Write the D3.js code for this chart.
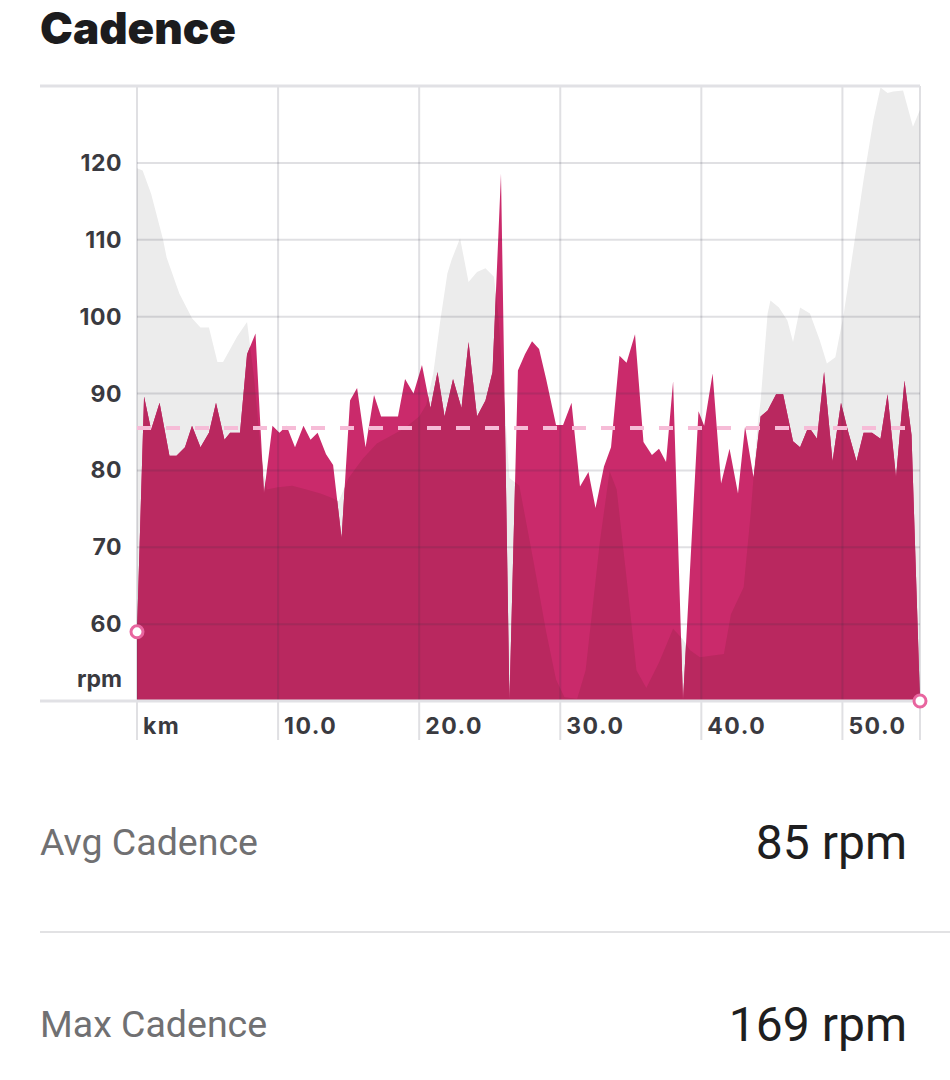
<!DOCTYPE html>
<html>
<head>
<meta charset="utf-8">
<script src="https://cdn.jsdelivr.net/npm/d3@7"></script>
<style>
  body { margin: 0; background: #fff; }
</style>
</head>
<body>
<div class="canvas"></div>
<script>
// cadence samples (km, rpm)
const distKm = [0, 0.5, 1.0, 1.6, 2.3, 2.8, 3.4, 3.9, 4.5, 5.1, 5.6, 6.2, 6.6, 7.3, 7.8, 8.4, 9.0, 9.6, 10.1, 10.6,
  11.2, 11.8, 12.3, 12.8, 13.4, 13.9, 14.5, 15.1, 15.6, 16.2, 16.8, 17.3, 18.5, 19.0, 19.6, 20.2, 20.8, 21.3, 21.8, 22.4,
  23.0, 23.5, 24.1, 24.7, 25.2, 25.8, 26.4, 27.0, 27.5, 28.0, 28.5, 29.0, 29.7, 30.2, 30.8, 31.4, 32.0, 32.5, 33.1, 33.6,
  34.2, 34.7, 35.3, 35.9, 36.5, 37.0, 37.5, 38.0, 38.7, 39.8, 40.2, 40.8, 41.4, 42.0, 42.6, 43.1, 43.7, 44.2, 44.7, 45.3,
  45.8, 46.5, 47.0, 47.6, 48.2, 48.7, 49.3, 49.9, 50.4, 51.0, 51.5, 52.1, 52.7, 53.2, 53.8, 54.4, 54.9, 55.5];
const cadence = [59, 89.6, 85.3, 88.8, 81.9, 81.9, 83, 85.8, 83, 84.9, 88.8, 84, 84.9, 84.9, 95.1, 97.8, 77, 85.8, 84.9, 85.8,
  83, 85.8, 84, 84.9, 82.1, 80.7, 71.2, 89.1, 90.7, 83, 89.8, 87, 87, 91.9, 90, 93.7, 88.1, 92.8, 87, 91.9,
  88.1, 96.7, 87, 89.1, 92.8, 118.6, 50, 93, 95.1, 96.8, 95.8, 91.9, 85.9, 85.9, 88.8, 77.9, 79.8, 75.1, 80.5, 83,
  94.9, 94, 97.7, 83.7, 82, 82.8, 81.1, 91.6, 50, 87.7, 85.8, 92.6, 78.3, 82.8, 77, 85.7, 79.1, 87, 87.8, 89.9,
  89.9, 83.8, 83, 85.7, 84.1, 92.8, 81.2, 88.8, 85.1, 81.2, 84.9, 84.9, 84.1, 89.9, 79.1, 91.7, 84.6, 50];

// elevation profile (drawn on the same vertical scale as a backdrop)
const elevKm = [0, 0.4, 1.0, 1.85, 2.1, 3.0, 3.9, 4.5, 5.1, 5.7, 6.1, 7.1, 7.8, 8.3, 8.8, 9.2, 10, 11, 12, 13,
  13.7, 14.3, 15, 16, 17, 18, 19, 20, 20.5, 21.0, 21.5, 22.0, 22.3, 22.9, 23.5, 24.1, 24.7, 25.3, 25.6, 26.0,
  26.4, 27.1, 28.1, 29.0, 29.7, 30.3, 31.2, 31.8, 32.8, 33.5, 34.0, 34.7, 35.4, 36.1, 37.0, 38.0, 38.7, 39.2, 39.9, 41.6,
  42.1, 43.0, 43.5, 44.0, 44.2, 44.7, 44.9, 45.5, 46.1, 46.5, 47.0, 47.7, 48.4, 48.9, 49.5, 50.1, 50.8, 51.5, 52.2, 52.7,
  53.2, 53.6, 54.3, 55.0, 55.5];
const elevation = [119.3, 119, 116, 110, 107.7, 103, 99.8, 98.6, 98.6, 94.1, 94.1, 97.4, 99.3, 92, 82, 77.5, 77.8, 78, 77.5, 77,
  76.5, 76, 79, 81.5, 83.5, 84.5, 85.5, 87, 88.5, 92.6, 99.5, 105.6, 107.4, 110.2, 104.5, 105.8, 106.3, 105.2, 100.4, 90,
  79, 78, 68.2, 59, 52.8, 50.5, 50.3, 54, 70.6, 79.9, 77.5, 66, 54, 51.7, 55, 59.4, 58, 56.6, 55.7, 56.1,
  61.3, 64.8, 74.4, 86.1, 89, 100.4, 102.1, 101.2, 99.5, 96.7, 101.2, 100.4, 96.9, 93.9, 94.7, 100.4, 109.1, 117.8, 125.6, 129.8,
  129.1, 129.3, 129.4, 124.7, 126.9];

const xTicks = [0, 10, 20, 30, 40, 50];
const yTicks = [60, 70, 80, 90, 100, 110, 120];
const avgLine = 85.5;
const statLabels = ["Avg Cadence", "Max Cadence"];
const statValues = ["85 rpm", "169 rpm"];

const dims = { width: 950, height: 1080 };
const plot = { left: 137, right: 920, top: 86, bottom: 701 };

const svg = d3
  .select(".canvas")
  .append("svg")
  .attr("width", dims.width)
  .attr("height", dims.height);

const x = d3.scaleLinear().domain([0, 55.5]).range([plot.left, plot.right]);
const y = d3.scaleLinear().domain([50, 130]).range([plot.bottom, plot.top]);

const cadData = distKm.map((km, i) => ({ km, v: cadence[i] }));
const elevData = elevKm.map((km, i) => ({ km, v: elevation[i] }));

const area = d3
  .area()
  .x((d) => x(d.km))
  .y0(y(50))
  .y1((d) => y(d.v));

// title
svg
  .append("text")
  .attr("x", 40)
  .attr("y", 44)
  .attr("font-family", "Inter, Lato, sans-serif")
  .attr("font-weight", 900)
  .attr("font-size", 44)
  .attr("fill", "#1c1c1e")
  .text("Cadence");

let defs = svg.append("defs");
defs.append("clipPath").attr("id", "cadClip").append("path").attr("d", area(cadData));

// grey elevation backdrop
svg.append("path").attr("d", area(elevData)).attr("fill", "#ececec");

// cadence
svg.append("path").attr("d", area(cadData)).attr("fill", "#ca2a6b");

// darker where elevation sits under cadence
svg
  .append("path")
  .attr("d", area(elevData))
  .attr("fill", "#b9285f")
  .attr("clip-path", "url(#cadClip)");

// grid
const grid = svg.append("g").attr("stroke", "rgba(50,50,70,0.15)").attr("stroke-width", 2);

grid
  .selectAll("line.h")
  .data(yTicks)
  .enter()
  .append("line")
  .attr("x1", plot.left)
  .attr("x2", plot.right)
  .attr("y1", (d) => y(d))
  .attr("y2", (d) => y(d));

grid
  .selectAll("line.v")
  .data(xTicks.concat([55.5]))
  .enter()
  .append("line")
  .attr("x1", (d) => x(d))
  .attr("x2", (d) => x(d))
  .attr("y1", plot.top)
  .attr("y2", 740);

// frame top / bottom
[plot.top, plot.bottom].forEach((yy) => {
  svg
    .append("line")
    .attr("x1", 40)
    .attr("x2", plot.right)
    .attr("y1", yy)
    .attr("y2", yy)
    .attr("stroke", "#e1e1e5")
    .attr("stroke-width", 3);
});

// average line
svg
  .append("line")
  .attr("x1", plot.left)
  .attr("x2", plot.right)
  .attr("y1", y(avgLine))
  .attr("y2", y(avgLine))
  .attr("stroke", "#f6bcd7")
  .attr("stroke-width", 4)
  .attr("stroke-dasharray", "14,15");

// start / end markers
const ends = [cadData[0], cadData[cadData.length - 1]];
svg
  .selectAll("circle.end")
  .data(ends)
  .enter()
  .append("circle")
  .attr("cx", (d) => x(d.km))
  .attr("cy", (d) => y(d.v))
  .attr("r", 6)
  .attr("fill", "#fff")
  .attr("stroke", "#e8659f")
  .attr("stroke-width", 3);

// axis labels
const labelFont = "Inter, Lato, sans-serif";
svg
  .selectAll("text.ytick")
  .data(yTicks)
  .enter()
  .append("text")
  .attr("x", 122)
  .attr("y", (d) => y(d) + 8)
  .attr("text-anchor", "end")
  .attr("font-family", labelFont)
  .attr("font-weight", 700)
  .attr("font-size", 23)
  .attr("letter-spacing", 0.5)
  .attr("fill", "#3a3a40")
  .text((d) => d);

svg
  .append("text")
  .attr("x", 122)
  .attr("y", 687)
  .attr("text-anchor", "end")
  .attr("font-family", labelFont)
  .attr("font-weight", 700)
  .attr("font-size", 23)
  .attr("fill", "#3a3a40")
  .text("rpm");

svg
  .selectAll("text.xtick")
  .data(xTicks)
  .enter()
  .append("text")
  .attr("x", (d) => x(d) + 6)
  .attr("y", 734)
  .attr("font-family", labelFont)
  .attr("font-weight", 700)
  .attr("font-size", 23)
  .attr("letter-spacing", 1.5)
  .attr("fill", "#3a3a40")
  .text((d) => (d === 0 ? "km" : d3.format(".1f")(d)));

// stats rows
const rowY = [855, 1037];
statLabels.forEach((lab, i) => {
  svg
    .append("text")
    .attr("x", 40)
    .attr("y", rowY[i])
    .attr("font-family", "Roboto, sans-serif")
    .attr("font-weight", 400)
    .attr("font-size", 37.5)
    .attr("fill", "#707072")
    .text(lab);
  svg
    .append("text")
    .attr("x", 907)
    .attr("y", rowY[i] + 4)
    .attr("text-anchor", "end")
    .attr("font-family", "Roboto, sans-serif")
    .attr("font-weight", 400)
    .attr("font-size", 48)
    .attr("fill", "#1e1e20")
    .text(statValues[i]);
});

svg
  .append("line")
  .attr("x1", 40)
  .attr("x2", 950)
  .attr("y1", 932)
  .attr("y2", 932)
  .attr("stroke", "#e2e2e4")
  .attr("stroke-width", 2);
</script>
</body>
</html>
